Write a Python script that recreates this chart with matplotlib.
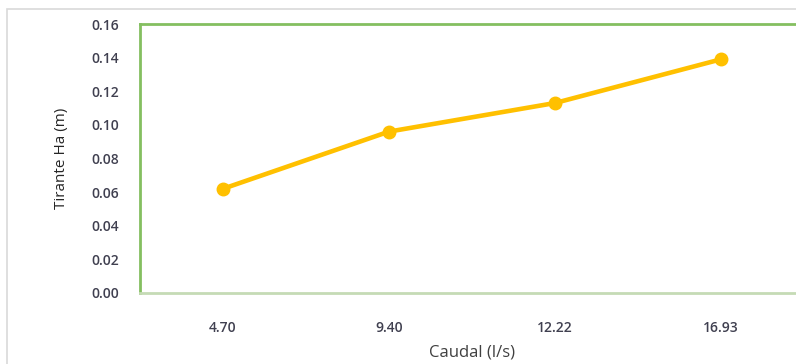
import matplotlib
matplotlib.use("Agg")
from matplotlib import pyplot as plt
from matplotlib.patches import Rectangle

# datos
caudal = ["4.70", "9.40", "12.22", "16.93"]
tirante = [0.062, 0.096, 0.113, 0.139]
y_ticks = [0.00, 0.02, 0.04, 0.06, 0.08, 0.10, 0.12, 0.14, 0.16]

plt.rcParams['font.family'] = ['Open Sans', 'DejaVu Sans']

W, H = 796, 364
fig = plt.figure(figsize=(W / 100, H / 100), dpi=100)

# borde del area del grafico
fig.patches.append(Rectangle((7 / W, -0.1), 1.2, (H - 9) / H + 0.1, transform=fig.transFigure,
                             fill=False, edgecolor="#d9d9d9", linewidth=1.2))

# area de trazado (se sale por la derecha como en la imagen)
ax = fig.add_axes([140 / W, (H - 293) / H, 664 / W, 269 / H])
x = list(range(len(caudal)))
ax.plot(x, tirante, color="#FFC000", linewidth=3.3, marker="o", markersize=9, clip_on=False)

ax.set_xlim(-0.5, len(caudal) - 0.5)
ax.set_ylim(0, 0.16)
ax.set_xticks(x)
ax.set_xticklabels(caudal)
ax.set_yticks(y_ticks)
ax.set_yticklabels(["%.2f" % v for v in y_ticks])
ax.tick_params(length=0, labelsize=10, labelcolor="#404050")
ax.tick_params(axis="x", pad=20)
ax.tick_params(axis="y", pad=15)
for lab in ax.get_xticklabels() + ax.get_yticklabels():
    lab.set_fontweight("semibold")

for side in ["left", "top", "right"]:
    ax.spines[side].set_color("#84bf60")
    ax.spines[side].set_linewidth(2)
ax.spines["bottom"].set_color("#c5dbb5")
ax.spines["bottom"].set_linewidth(2)

ax.set_ylabel("Tirante Ha (m)", fontsize=11, color="#262626", labelpad=16)
ax.set_xlabel("Caudal (l/s)", fontsize=12, color="#404040", labelpad=7)

plt.savefig("out.png", dpi=100)
